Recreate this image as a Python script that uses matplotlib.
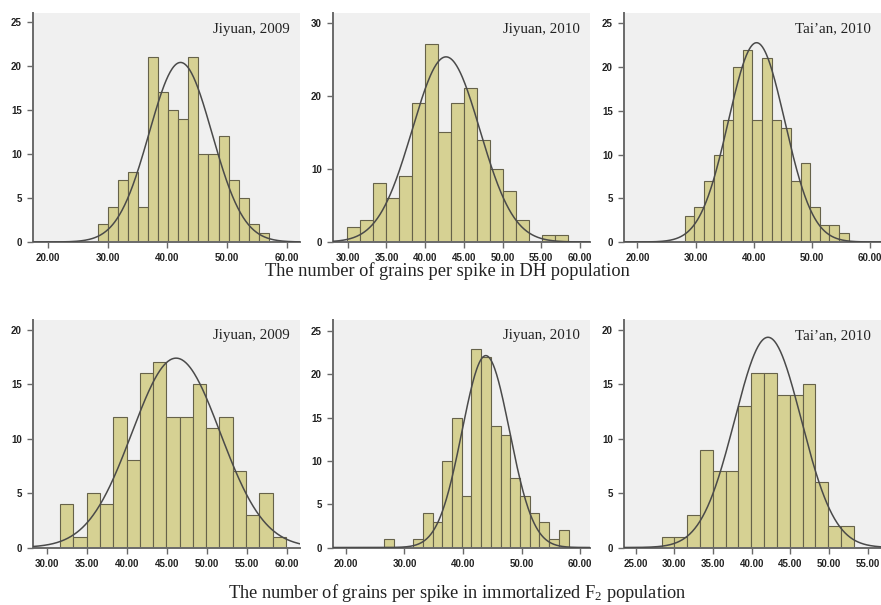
import numpy as np
import matplotlib
matplotlib.use("Agg")
from matplotlib import pyplot as plt

plt.rcParams["mathtext.fontset"] = "custom"
plt.rcParams["mathtext.rm"] = "Liberation Serif"
plt.rcParams["mathtext.it"] = "Liberation Serif:italic"

# histogram counts, bin start / width for each site-year
sites = ["Jiyuan, 2009", "Jiyuan, 2010", "Tai\u2019an, 2010"]

dh_counts = [
    [2, 4, 7, 8, 4, 21, 17, 15, 14, 21, 10, 10, 12, 7, 5, 2, 1],
    [2, 3, 8, 6, 9, 19, 27, 15, 19, 21, 14, 10, 7, 3, 0, 1, 1],
    [3, 4, 7, 10, 14, 20, 22, 14, 21, 14, 13, 7, 9, 4, 2, 2, 1],
]
dh_start = [28.4, 29.95, 28.14]
dh_width = [1.68, 1.68, 1.66]
dh_mean = [42.2, 42.7, 40.5]
dh_sd = [5.26, 4.37, 4.85]

f2_counts = [
    [4, 1, 5, 4, 12, 8, 16, 17, 12, 12, 15, 11, 12, 7, 3, 5, 1],
    [1, 0, 0, 1, 4, 3, 10, 15, 6, 23, 22, 14, 13, 8, 6, 4, 3, 1, 2],
    [1, 1, 3, 9, 7, 7, 13, 16, 16, 14, 14, 15, 6, 2, 2],
]
f2_start = [31.6, 26.5, 28.35]
f2_width = [1.66, 1.66, 1.656]
f2_mean = [46.1, 43.9, 42.1]
f2_sd = [5.52, 4.06, 4.31]

dh_xticks = [np.arange(20, 61, 10), np.arange(30, 61, 5), np.arange(20, 61, 10)]
dh_yticks = [np.arange(0, 26, 5), [0, 10, 20, 30], np.arange(0, 26, 5)]
f2_xticks = [np.arange(30, 61, 5), np.arange(20, 61, 10), np.arange(25, 56, 5)]
f2_yticks = [np.arange(0, 21, 5), np.arange(0, 26, 5), np.arange(0, 21, 5)]

dh_xlim = [(17.5, 62.2), (28.1, 61.3), (17.7, 61.9)]
dh_ylim = [(0, 26.0), (0, 31.3), (0, 26.2)]
f2_xlim = [(28.2, 61.6), (17.8, 61.7), (23.5, 56.7)]
f2_ylim = [(0, 20.9), (0, 26.3), (0, 20.9)]

W, H = 881, 605
fig = plt.figure(figsize=(W / 100, H / 100), dpi=100)

cols = [(33, 300), (333, 590), (624, 881)]
rows = [(13, 242), (320, 547.5)]

bar_col = "#d6d193"
edge_col = "#66624a"
axis_col = "#6a6a6a"


def panel(x0, x1, y0, y1, counts, start, bw, mu, sd, xt, yt, xl, yl, label):
    ax = fig.add_axes([x0 / W, 1 - y1 / H, (x1 - x0) / W, (y1 - y0) / H])
    ax.set_facecolor("#f0f0f0")
    counts = np.array(counts)
    edges = start + bw * np.arange(len(counts))
    ax.bar(edges, counts, width=bw, align="edge", color=bar_col,
           edgecolor=edge_col, linewidth=0.8, zorder=2)
    # fitted normal curve scaled to the counts
    xs = np.linspace(xl[0], xl[1], 400)
    n = counts.sum()
    ys = n * bw / (sd * np.sqrt(2 * np.pi)) * np.exp(-0.5 * ((xs - mu) / sd) ** 2)
    ax.plot(xs, ys, color="#4a4a4a", lw=1.1, zorder=3)
    ax.set_xlim(*xl)
    ax.set_ylim(*yl)
    ax.set_xticks(xt)
    ax.set_xticklabels(["%.2f" % v for v in xt])
    ax.set_yticks(yt)
    for s in ["top", "right"]:
        ax.spines[s].set_visible(False)
    for s in ["left", "bottom"]:
        ax.spines[s].set_color(axis_col)
        ax.spines[s].set_linewidth(1.4)
    ax.tick_params(direction="out", length=4, width=1, color=axis_col,
                   labelsize=7, labelcolor="#222222", pad=4)
    for t in ax.get_xticklabels() + ax.get_yticklabels():
        t.set_fontfamily("Liberation Sans")
        t.set_fontweight("bold")
    ax.text(0.96, 0.93, label, transform=ax.transAxes, ha="right", va="center",
            fontsize=10.8, family="Liberation Serif", color="#222222")
    return ax


for i in range(3):
    panel(cols[i][0], cols[i][1], rows[0][0], rows[0][1], dh_counts[i],
          dh_start[i], dh_width[i], dh_mean[i], dh_sd[i],
          dh_xticks[i], dh_yticks[i], dh_xlim[i], dh_ylim[i], sites[i])
    panel(cols[i][0], cols[i][1], rows[1][0], rows[1][1], f2_counts[i],
          f2_start[i], f2_width[i], f2_mean[i], f2_sd[i],
          f2_xticks[i], f2_yticks[i], f2_xlim[i], f2_ylim[i], sites[i])

fig.text(447 / W, 1 - 271 / H, "The number of grains per spike in DH population",
         ha="center", va="center", fontsize=13.2, family="Liberation Serif",
         color="#222222")
fig.text(457 / W, 1 - 593 / H,
         r"The number of grains per spike in immortalized $\mathrm{F}_\mathrm{2}$ population",
         ha="center", va="center", fontsize=13.2, family="Liberation Serif",
         color="#222222")

fig.savefig("out.png", dpi=100, facecolor="white")
